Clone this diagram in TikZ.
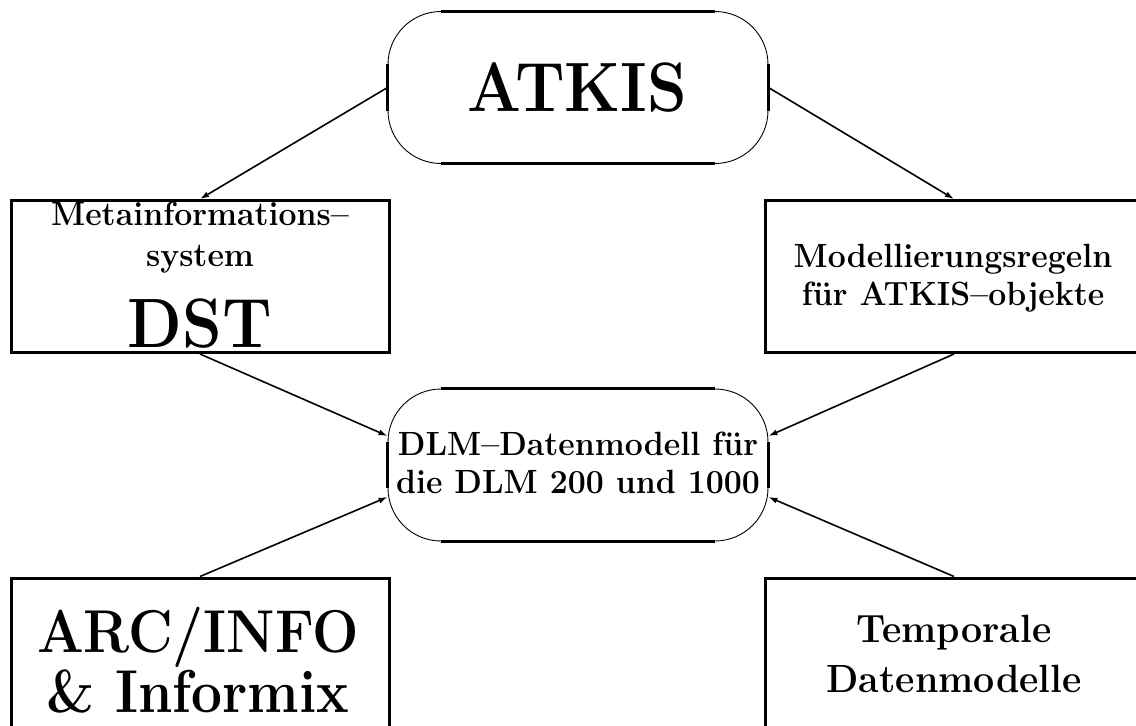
\documentclass[tikz,border=0pt]{standalone}
\usepackage{fontspec}
\usepackage{graphicx}
\usetikzlibrary{arrows.meta}
\newcommand{\vst}[1]{\scalebox{1}[1.1]{#1}}
\newcommand{\vsm}[1]{\scalebox{1}[1.05]{#1}}
\tikzset{
  sqbox/.style={draw, line width=3pt, minimum width=378pt, minimum height=152pt, inner sep=0pt},
  rbox/.style={draw, line width=0.9pt, rounded corners=53pt, minimum width=380pt, minimum height=152pt, inner sep=0pt},
  straight/.style={line width=3pt},
  arr/.style={line width=1.6pt, -{Latex[length=9pt,width=6pt]}},
  medtxt/.style={font=\fontsize{32}{36}\selectfont\bfseries, anchor=base, inner sep=0pt},
  lgtxt/.style={font=\fontsize{37.5}{42}\selectfont\bfseries, anchor=base, inner sep=0pt},
  hugetxt/.style={font=\fontsize{55}{60}\selectfont\bfseries, anchor=base, inner sep=0pt},
  bigtxt/.style={font=\fontsize{63.5}{70}\selectfont\bfseries, anchor=base, inner sep=0pt},
}
\begin{document}
\begin{tikzpicture}[x=1pt,y=-1pt]
\useasboundingbox (0,0) rectangle (1136,726);
\clip (0,0) rectangle (1136,726);
% boxes
\node[rbox] (atkis) at (578,87.5) {};
\node[sqbox] (meta) at (200,276.5) {};
\node[sqbox] (modell) at (954,276.5) {};
\node[rbox] (dlm) at (578,465) {};
\node[sqbox] (arc) at (200,654) {};
\node[sqbox] (temp) at (954,654) {};
% thick straight parts of the rounded boxes
\foreach \n in {atkis,dlm}{
  \draw[straight] ([xshift=53pt]\n.north west) -- ([xshift=-53pt]\n.north east);
  \draw[straight] ([xshift=53pt]\n.south west) -- ([xshift=-53pt]\n.south east);
  \draw[straight] ([yshift=-53pt]\n.north west) -- ([yshift=53pt]\n.south west);
  \draw[straight] ([yshift=-53pt]\n.north east) -- ([yshift=53pt]\n.south east);
}
% texts
\node[bigtxt] (tatkis) at (577,111) {\vst{ATKIS}};
\node[medtxt] (tmeta1) at (200,225) {\vsm{Metainformations\textendash}};
\node[medtxt] (tmeta2) at (200,266) {\vsm{system}};
\node[bigtxt] (tmeta3) at (200,347) {\vst{DST}};
\node[medtxt] (tmod1) at (953,267) {\vsm{Modellierungsregeln}};
\node[medtxt] (tmod2) at (953,305) {\vsm{für ATKIS\textendash objekte}};
\node[medtxt] (tdlm1) at (578,455) {\vsm{DLM\textendash Datenmodell für}};
\node[medtxt] (tdlm2) at (578,493) {\vsm{die DLM 200 und 1000}};
\node[hugetxt] (tarc1) at (198,652) {\vst{ARC/INFO}};
\node[hugetxt] (tarc2) at (198,712) {\vst{\& Informix}};
\node[lgtxt] (ttemp1) at (954,642) {\vsm{Temporale}};
\node[lgtxt] (ttemp2) at (954,692) {\vsm{Datenmodelle}};
% connectors
\draw[arr] (atkis.west) -- (meta.north);
\draw[arr] (atkis.east) -- (modell.north);
\draw[arr] (meta.south) -- ([yshift=29pt]dlm.west);
\draw[arr] (modell.south) -- ([yshift=29pt]dlm.east);
\draw[arr] (arc.north) -- ([yshift=-32pt]dlm.west);
\draw[arr] (temp.north) -- ([yshift=-32pt]dlm.east);
\end{tikzpicture}
\end{document}
